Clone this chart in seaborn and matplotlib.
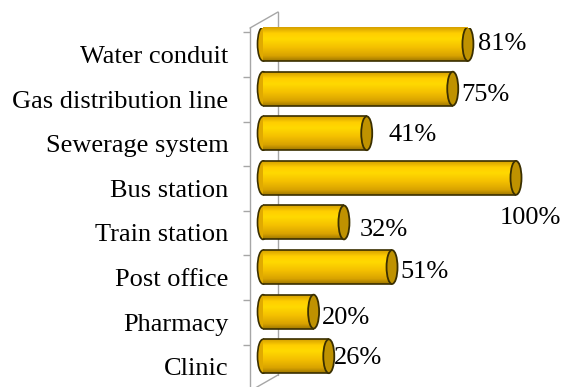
import seaborn as sns
import numpy as np
import pandas as pd
import matplotlib
matplotlib.use("Agg")
import matplotlib.pyplot as plt
from matplotlib.patches import Ellipse
from matplotlib.colors import LinearSegmentedColormap
from matplotlib.transforms import ScaledTranslation

categories = ["Water conduit", "Gas distribution line", "Sewerage system", "Bus station",
              "Train station", "Post office", "Pharmacy", "Clinic"]
values = [81, 75, 41, 100, 32, 51, 20, 26]
value_labels = [f"{v}%" for v in values]

# label placement tweaks (pixels right, pixels down) so labels sit like the original
label_dx = [5, 3, 16, -22, 10, 3, 3, 0]
label_dy = [0, 6, 2, 40, 8, 5, 6, 2]

body = "#FFC800"
cap = "#BF9200"
edge = "#3A2F00"
grey = "#A6A6A6"
shade = LinearSegmentedColormap.from_list(
    "gold", [(0, "#D6A000"), (0.18, "#FFCF00"), (0.35, "#FFD900"),
             (0.6, "#F4C000"), (0.85, "#D9A300"), (1, "#A07800")])

sns.set_style("white")
plt.rcParams["font.family"] = ["Liberation Serif", "DejaVu Serif"]

fig = plt.figure(figsize=(5.77, 3.87), dpi=100)
ax = fig.add_axes([250 / 577, 0, 1 - 250 / 577, 359 / 387])

df = pd.DataFrame({"category": categories, "value": values})
sns.barplot(data=df, x="value", y="category", orient="h", color=body,
            width=0.76, edgecolor="none", saturation=1, ax=ax, zorder=3)

px = 2.53  # pixels per unit on x
cap_w = 11 / px
grad = np.linspace(0, 1, 64).reshape(-1, 1)
bars = list(ax.patches)
for bar in bars:
    y = bar.get_y() + bar.get_height() / 2
    h = bar.get_height()
    w = bar.get_width()
    # rounded back end
    ax.add_patch(Ellipse((0, y), cap_w, h, facecolor="#E0AA00", edgecolor=edge, lw=1.2, zorder=2))
    # shaded body
    im = ax.imshow(grad, cmap=shade, extent=[0, w, y + h / 2, y - h / 2],
                   aspect="auto", origin="upper", zorder=3.2, interpolation="bilinear")
    im.set_clip_path(bar)
    ax.hlines([y - h / 2, y + h / 2], 0, w, colors=edge, lw=1.2, zorder=3.5)
    # front cap
    ax.add_patch(Ellipse((w, y), cap_w, h, facecolor=cap, edgecolor=edge, lw=1.3, zorder=4))

for bar, lab, dx, dy in zip(bars, value_labels, label_dx, label_dy):
    y = bar.get_y() + bar.get_height() / 2
    ax.annotate(lab, (bar.get_width() + cap_w / 2, y), xytext=(dx * 0.72, -dy * 0.72),
                textcoords="offset points", ha="left", va="center", fontsize=19,
                color="black", annotation_clip=False)

ax.set_xlim(-13 / px, 314 / px)
ax.set_ylim(7.69, -0.36)
ax.set_xlabel("")
ax.set_ylabel("")
ax.set_xticks([])
ax.tick_params(axis="y", which="major", length=0, pad=15.5, labelsize=19, labelcolor="black")
for lab in ax.get_yticklabels():
    lab.set_transform(lab.get_transform() + ScaledTranslation(0, -0.105, fig.dpi_scale_trans))

for s in ["top", "right", "bottom"]:
    ax.spines[s].set_visible(False)
ax.spines["left"].set_color(grey)
ax.spines["left"].set_linewidth(1)

# category tick marks on the front wall
ax.set_yticks(np.arange(len(categories)) - 0.26, minor=True)
ax.tick_params(axis="y", which="minor", left=True, length=5, color=grey, width=1, direction="out")

# back wall of the 3D frame
tr = fig.transFigure
fig.add_artist(plt.Line2D([250 / 577, 278 / 577], [359 / 387, 375 / 387], color=grey, lw=1, transform=tr, zorder=1))
fig.add_artist(plt.Line2D([278 / 577, 278 / 577], [375 / 387, 12 / 387], color=grey, lw=1, transform=tr, zorder=0))
fig.add_artist(plt.Line2D([278 / 577, 250 / 577], [12 / 387, -4 / 387], color=grey, lw=1, transform=tr, zorder=1))
ax.set_zorder(2)
ax.patch.set_alpha(0)

fig.savefig("out.png", dpi=100)
